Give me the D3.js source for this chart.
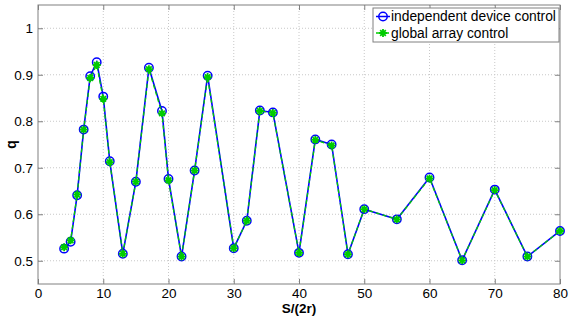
<!DOCTYPE html>
<html>
<head>
<meta charset="utf-8">
<script src="https://cdn.jsdelivr.net/npm/d3@7"></script>
<style>
  body { margin: 0; background: #fff; }
  svg { display: block; font-family: "Liberation Sans", Arial, sans-serif; }
  .grid line { stroke: #c8c8c8; stroke-dasharray: 1,2; }
</style>
</head>
<body>
<svg id="chart" width="569" height="320"></svg>
<script>
// spacing S/(2r)
var spacing = [4, 5, 6, 7, 8, 9, 10, 11, 13, 15, 17, 19, 20, 22, 24, 26, 30, 32, 34, 36,
               40, 42.5, 45, 47.5, 50, 55, 60, 65, 70, 75, 80];
// q for independent device control
var independentQ = [0.526, 0.541, 0.641, 0.782, 0.897, 0.927, 0.853, 0.714, 0.515, 0.670,
                    0.915, 0.822, 0.676, 0.509, 0.694, 0.898, 0.527, 0.586, 0.823, 0.819,
                    0.517, 0.761, 0.750, 0.514, 0.611, 0.589, 0.679, 0.501, 0.653, 0.509, 0.564];
// q for global array control
var globalQ = [0.529, 0.544, 0.642, 0.782, 0.893, 0.921, 0.848, 0.712, 0.515, 0.670,
               0.912, 0.817, 0.673, 0.509, 0.694, 0.895, 0.527, 0.586, 0.822, 0.818,
               0.517, 0.760, 0.748, 0.514, 0.611, 0.589, 0.677, 0.501, 0.652, 0.509, 0.564];
var xTicks = [0, 10, 20, 30, 40, 50, 60, 70, 80];
var yTicks = [0.5, 0.6, 0.7, 0.8, 0.9, 1];
var seriesNames = ["independent device control", "global array control"];

var svg = d3.select("#chart");
var m = {left: 38, right: 9, top: 5, bottom: 36};
var w = 569 - m.left - m.right, h = 320 - m.top - m.bottom;

var x = d3.scaleLinear().domain([0, 80]).range([0, w]);
var y = d3.scaleLinear().domain([0.45, 1.05]).range([h, 0]);

var g = svg.append("g").attr("transform", "translate(" + m.left + "," + m.top + ")");

// grid
g.append("g").attr("class", "grid")
  .selectAll("line.vx").data(xTicks.slice(1, -1)).enter().append("line")
  .attr("x1", x).attr("x2", x).attr("y1", 0).attr("y2", h);
g.append("g").attr("class", "grid")
  .selectAll("line.hy").data(yTicks).enter().append("line")
  .attr("x1", 0).attr("x2", w).attr("y1", y).attr("y2", y);

// axes (ticks inward, box all round)
var axisColor = "#808080";
function styleAxis(sel) {
  sel.select(".domain").remove();
  sel.selectAll(".tick line").attr("stroke", axisColor);
  sel.selectAll(".tick text").attr("fill", "#000").style("font-size", "13.5px");
}
g.append("g").attr("transform", "translate(0," + h + ")")
  .call(d3.axisBottom(x).tickValues(xTicks).tickSize(-5).tickPadding(4))
  .call(styleAxis);
g.append("g")
  .call(d3.axisLeft(y).tickValues(yTicks).tickSize(-5).tickPadding(5).tickFormat(d3.format("")))
  .call(styleAxis);
g.append("g")
  .call(d3.axisTop(x).tickValues(xTicks).tickSize(-5).tickFormat(""))
  .call(styleAxis);
g.append("g").attr("transform", "translate(" + w + ",0)")
  .call(d3.axisRight(y).tickValues(yTicks).tickSize(-5).tickFormat(""))
  .call(styleAxis);
g.append("rect").attr("width", w).attr("height", h)
  .attr("fill", "none").attr("stroke", axisColor).attr("stroke-width", 1);

// lines
var blue = "#0000ff", green = "#00cc00";
var line = d3.line().x(function(d) { return x(d[0]); }).y(function(d) { return y(d[1]); });
var indepPts = spacing.map(function(s, i) { return [s, independentQ[i]]; });
var globalPts = spacing.map(function(s, i) { return [s, globalQ[i]]; });

g.append("path").datum(indepPts).attr("d", line)
  .attr("fill", "none").attr("stroke", blue).attr("stroke-width", 1.6);
g.selectAll("circle.indep").data(indepPts).enter().append("circle")
  .attr("cx", function(d) { return x(d[0]); }).attr("cy", function(d) { return y(d[1]); })
  .attr("r", 4.2).attr("fill", "none").attr("stroke", blue).attr("stroke-width", 1.5);

g.append("path").datum(globalPts).attr("d", line)
  .attr("fill", "none").attr("stroke", green).attr("stroke-width", 1.3)
  .attr("stroke-dasharray", "4,3");

function star(sel, r) {
  var p = "M" + (-r) + ",0H" + r + "M0," + (-r) + "V" + r +
    "M" + (-r * 0.7) + "," + (-r * 0.7) + "L" + (r * 0.7) + "," + (r * 0.7) +
    "M" + (-r * 0.7) + "," + (r * 0.7) + "L" + (r * 0.7) + "," + (-r * 0.7);
  sel.append("path").attr("d", p).attr("stroke", green).attr("stroke-width", 1.8).attr("fill", "none");
}
g.selectAll("g.glob").data(globalPts).enter().append("g")
  .attr("transform", function(d) { return "translate(" + x(d[0]) + "," + y(d[1]) + ")"; })
  .call(star, 4);

// axis labels
svg.append("text").attr("x", m.left + w / 2).attr("y", 313)
  .attr("text-anchor", "middle").style("font-size", "13.5px").style("font-weight", "bold")
  .text("S/(2r)");
svg.append("text").attr("transform", "translate(16," + (m.top + h / 2) + ") rotate(-90)")
  .attr("text-anchor", "middle").style("font-size", "14px").style("font-weight", "bold")
  .text("q");

// legend
var lg = svg.append("g").attr("transform", "translate(373,8)");
lg.append("rect").attr("width", 186).attr("height", 34)
  .attr("fill", "#fff").attr("stroke", axisColor);
var rows = lg.selectAll("g.row").data(seriesNames).enter().append("g")
  .attr("transform", function(d, i) { return "translate(0," + (8.5 + i * 16.5) + ")"; });
rows.append("line").attr("x1", 3).attr("x2", 17)
  .attr("stroke", function(d, i) { return i ? green : blue; })
  .attr("stroke-width", 1.5)
  .attr("stroke-dasharray", function(d, i) { return i ? "3,2" : null; });
rows.filter(function(d, i) { return i === 0; }).append("circle")
  .attr("cx", 10).attr("r", 4.2).attr("fill", "none").attr("stroke", blue).attr("stroke-width", 1.5);
rows.filter(function(d, i) { return i === 1; }).append("g")
  .attr("transform", "translate(10,0)").call(star, 4);
rows.append("text").attr("x", 18).attr("dy", "0.35em")
  .style("font-size", "13.8px").text(function(d) { return d; });
</script>
</body>
</html>
